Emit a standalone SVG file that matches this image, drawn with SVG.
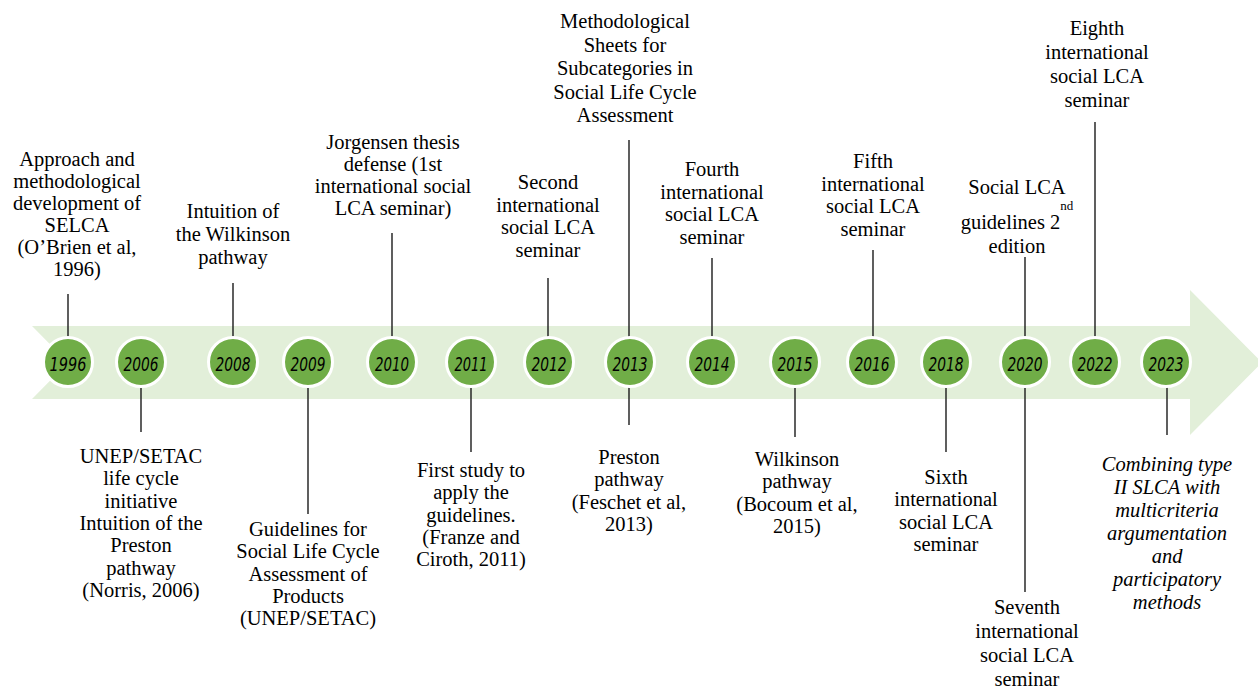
<svg xmlns="http://www.w3.org/2000/svg" width="1258" height="689" viewBox="0 0 1258 689">
<style>
  .lbl { font-family: "Liberation Serif", "Times New Roman", serif; font-size: 20.5px; fill: #000; text-anchor: middle; }
  .it { font-style: italic; }
  .yr { font-family: "DejaVu Sans Condensed", "DejaVu Sans", sans-serif; font-style: oblique; font-size: 19px; fill: #000; text-anchor: middle; }
  .dot { fill: #70AD47; stroke: #FFFFFF; stroke-width: 3; }
  .con line { stroke: #1a1a1a; stroke-width: 1.4; }
</style>
<rect width="1258" height="689" fill="#FFFFFF"/>
<polygon id="band" points="32,326 1190,326 1190,290 1262,362.5 1190,435 1190,399 32,399 68,362.5" fill="#E2EFD9"/>

<g id="connectors" class="con">
  <line x1="68" y1="294" x2="68" y2="338"/>
  <line x1="141" y1="386" x2="141" y2="432"/>
  <line x1="233" y1="283" x2="233" y2="338"/>
  <line x1="308" y1="386" x2="308" y2="514"/>
  <line x1="392" y1="233" x2="392" y2="338"/>
  <line x1="471" y1="386" x2="471" y2="452"/>
  <line x1="548" y1="278" x2="548" y2="338"/>
  <line x1="629" y1="140" x2="629" y2="338"/>
  <line x1="629" y1="386" x2="629" y2="425"/>
  <line x1="712" y1="258" x2="712" y2="338"/>
  <line x1="795" y1="386" x2="795" y2="437"/>
  <line x1="873" y1="250" x2="873" y2="338"/>
  <line x1="946" y1="386" x2="946" y2="452"/>
  <line x1="1025" y1="257" x2="1025" y2="338"/>
  <line x1="1025" y1="386" x2="1025" y2="592"/>
  <line x1="1095" y1="122" x2="1095" y2="338"/>
  <line x1="1167" y1="386" x2="1167" y2="435"/>
</g>

<g id="n1996"><circle class="dot" cx="68" cy="362" r="24.5"/><text class="yr" x="68" y="371" textLength="37" lengthAdjust="spacingAndGlyphs">1996</text>
  <text class="lbl" x="77" y="166"><tspan x="77">Approach and</tspan><tspan x="77" dy="22">methodological</tspan><tspan x="77" dy="22">development of</tspan><tspan x="77" dy="22">SELCA</tspan><tspan x="77" dy="22">(O’Brien et al,</tspan><tspan x="77" dy="22">1996)</tspan></text></g>

<g id="n2006"><circle class="dot" cx="141" cy="362" r="24.5"/><text class="yr" x="141" y="371" textLength="35" lengthAdjust="spacingAndGlyphs">2006</text>
  <text class="lbl" x="141" y="463"><tspan x="141">UNEP/SETAC</tspan><tspan x="141" dy="22.3">life cycle</tspan><tspan x="141" dy="22.3">initiative</tspan><tspan x="141" dy="22.3">Intuition of the</tspan><tspan x="141" dy="22.3">Preston</tspan><tspan x="141" dy="22.3">pathway</tspan><tspan x="141" dy="22.3">(Norris, 2006)</tspan></text></g>

<g id="n2008"><circle class="dot" cx="233" cy="362" r="24.5"/><text class="yr" x="233" y="371" textLength="35" lengthAdjust="spacingAndGlyphs">2008</text>
  <text class="lbl" x="233" y="218"><tspan x="233">Intuition of</tspan><tspan x="233" dy="23">the Wilkinson</tspan><tspan x="233" dy="23">pathway</tspan></text></g>

<g id="n2009"><circle class="dot" cx="308" cy="362" r="24.5"/><text class="yr" x="308" y="371" textLength="35" lengthAdjust="spacingAndGlyphs">2009</text>
  <text class="lbl" x="308" y="536"><tspan x="308">Guidelines for</tspan><tspan x="308" dy="22.3">Social Life Cycle</tspan><tspan x="308" dy="22.3">Assessment of</tspan><tspan x="308" dy="22.3">Products</tspan><tspan x="308" dy="22.3">(UNEP/SETAC)</tspan></text></g>

<g id="n2010"><circle class="dot" cx="392" cy="362" r="24.5"/><text class="yr" x="392" y="371" textLength="34" lengthAdjust="spacingAndGlyphs">2010</text>
  <text class="lbl" x="393" y="149"><tspan x="393">Jorgensen thesis</tspan><tspan x="393" dy="22">defense (1st</tspan><tspan x="393" dy="22">international social</tspan><tspan x="393" dy="22">LCA seminar)</tspan></text></g>

<g id="n2011"><circle class="dot" cx="471" cy="362" r="24.5"/><text class="yr" x="471" y="371" textLength="33" lengthAdjust="spacingAndGlyphs">2011</text>
  <text class="lbl" x="471" y="477"><tspan x="471">First study to</tspan><tspan x="471" dy="22.3">apply the</tspan><tspan x="471" dy="22.3">guidelines.</tspan><tspan x="471" dy="22.3">(Franze and</tspan><tspan x="471" dy="22.3">Ciroth, 2011)</tspan></text></g>

<g id="n2012"><circle class="dot" cx="549" cy="362" r="24.5"/><text class="yr" x="549" y="371" textLength="35" lengthAdjust="spacingAndGlyphs">2012</text>
  <text class="lbl" x="548" y="189"><tspan x="548">Second</tspan><tspan x="548" dy="22.5">international</tspan><tspan x="548" dy="22.5">social LCA</tspan><tspan x="548" dy="22.5">seminar</tspan></text></g>

<g id="n2013"><circle class="dot" cx="630" cy="362" r="24.5"/><text class="yr" x="630" y="371" textLength="35" lengthAdjust="spacingAndGlyphs">2013</text>
  <text class="lbl" x="625" y="28"><tspan x="625">Methodological</tspan><tspan x="625" dy="23.5">Sheets for</tspan><tspan x="625" dy="23.5">Subcategories in</tspan><tspan x="625" dy="23.5">Social Life Cycle</tspan><tspan x="625" dy="23.5">Assessment</tspan></text>
  <text class="lbl" x="629" y="464"><tspan x="629">Preston</tspan><tspan x="629" dy="22.3">pathway</tspan><tspan x="629" dy="22.3">(Feschet et al,</tspan><tspan x="629" dy="22.3">2013)</tspan></text></g>

<g id="n2014"><circle class="dot" cx="712" cy="362" r="24.5"/><text class="yr" x="712" y="371" textLength="35" lengthAdjust="spacingAndGlyphs">2014</text>
  <text class="lbl" x="712" y="176"><tspan x="712">Fourth</tspan><tspan x="712" dy="22.5">international</tspan><tspan x="712" dy="22.5">social LCA</tspan><tspan x="712" dy="22.5">seminar</tspan></text></g>

<g id="n2015"><circle class="dot" cx="795" cy="362" r="24.5"/><text class="yr" x="795" y="371" textLength="35" lengthAdjust="spacingAndGlyphs">2015</text>
  <text class="lbl" x="797" y="466"><tspan x="797">Wilkinson</tspan><tspan x="797" dy="22.3">pathway</tspan><tspan x="797" dy="22.3">(Bocoum et al,</tspan><tspan x="797" dy="22.3">2015)</tspan></text></g>

<g id="n2016"><circle class="dot" cx="872" cy="362" r="24.5"/><text class="yr" x="872" y="371" textLength="35" lengthAdjust="spacingAndGlyphs">2016</text>
  <text class="lbl" x="873" y="168"><tspan x="873">Fifth</tspan><tspan x="873" dy="22.5">international</tspan><tspan x="873" dy="22.5">social LCA</tspan><tspan x="873" dy="22.5">seminar</tspan></text></g>

<g id="n2018"><circle class="dot" cx="946" cy="362" r="24.5"/><text class="yr" x="946" y="371" textLength="35" lengthAdjust="spacingAndGlyphs">2018</text>
  <text class="lbl" x="946" y="484"><tspan x="946">Sixth</tspan><tspan x="946" dy="22.3">international</tspan><tspan x="946" dy="22.3">social LCA</tspan><tspan x="946" dy="22.3">seminar</tspan></text></g>

<g id="n2020"><circle class="dot" cx="1025" cy="362" r="24.5"/><text class="yr" x="1025" y="371" textLength="35" lengthAdjust="spacingAndGlyphs">2020</text>
  <text class="lbl" x="1017" y="194">Social LCA</text>
  <text class="lbl" x="1017" y="229">guidelines 2<tspan font-size="13" dy="-19">nd</tspan></text>
  <text class="lbl" x="1017" y="253">edition</text>
  <text class="lbl" x="1027" y="614"><tspan x="1027">Seventh</tspan><tspan x="1027" dy="24">international</tspan><tspan x="1027" dy="24">social LCA</tspan><tspan x="1027" dy="24">seminar</tspan></text></g>

<g id="n2022"><circle class="dot" cx="1095" cy="362" r="24.5"/><text class="yr" x="1095" y="371" textLength="35" lengthAdjust="spacingAndGlyphs">2022</text>
  <text class="lbl" x="1097" y="35"><tspan x="1097">Eighth</tspan><tspan x="1097" dy="24">international</tspan><tspan x="1097" dy="24">social LCA</tspan><tspan x="1097" dy="24">seminar</tspan></text></g>

<g id="n2023"><circle class="dot" cx="1166" cy="362" r="24.5"/><text class="yr" x="1166" y="371" textLength="35" lengthAdjust="spacingAndGlyphs">2023</text>
  <text class="lbl it" x="1167" y="471"><tspan x="1167">Combining type</tspan><tspan x="1167" dy="23">II SLCA with</tspan><tspan x="1167" dy="23">multicriteria</tspan><tspan x="1167" dy="23">argumentation</tspan><tspan x="1167" dy="23">and</tspan><tspan x="1167" dy="23">participatory</tspan><tspan x="1167" dy="23">methods</tspan></text></g>
</svg>
